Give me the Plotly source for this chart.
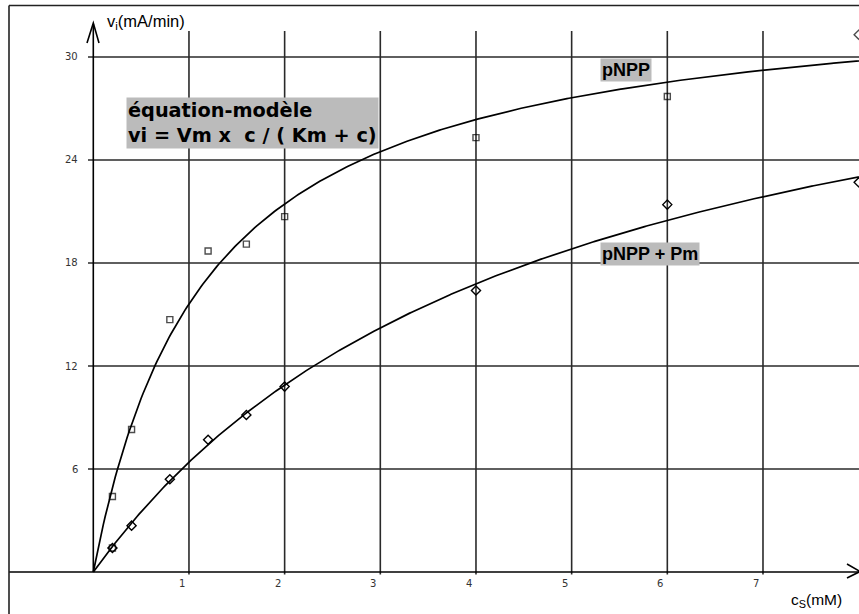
import numpy as np
import plotly.graph_objects as go

# ---------------- data ----------------
pnpp_c = [0.2, 0.2, 0.4, 0.8, 1.2, 1.6, 2, 4, 6, 8]
pnpp_v = [1.4, 4.4, 8.3, 14.7, 18.7, 19.1, 20.7, 25.3, 27.7, 31.3]
pnpp_symbols = ["square-open"] * 9 + ["diamond-open"]

pm_c = [0.2, 0.4, 0.8, 1.2, 1.6, 2, 4, 6, 8]
pm_v = [1.4, 2.7, 5.4, 7.7, 9.15, 10.8, 16.4, 21.4, 22.7]

# fitted model parameters vi = Vm * c / (Km + c)
pnpp_Vm, pnpp_Km = 34.2, 1.19
pm_Vm, pm_Km = 36.6, 4.72

x_ticks = [1, 2, 3, 4, 5, 6, 7]
x_grid = [1, 2, 3, 4, 5, 6, 7]
y_ticks = [6, 12, 18, 24, 30]
y_tick_labels = ["6", "12", "18", "24", "30"]

# ---------------- layout geometry ----------------
W, H = 859, 614
OX, OY = 93.3, 572.0          # pixel of origin
SX, SY = 95.67, 17.167        # pixels per unit


def X(px):
    return (px - OX) / SX


def Y(py):
    return (OY - py) / SY


c_fit = np.linspace(0, 8.3, 400)

fig = go.Figure()

fig.add_trace(go.Scatter(x=c_fit, y=pnpp_Vm * c_fit / (pnpp_Km + c_fit), mode="lines",
                         line=dict(color="black", width=1.7), hoverinfo="skip"))
fig.add_trace(go.Scatter(x=c_fit, y=pm_Vm * c_fit / (pm_Km + c_fit), mode="lines",
                         line=dict(color="black", width=1.7), hoverinfo="skip"))
fig.add_trace(go.Scatter(x=pm_c, y=pm_v, mode="markers",
                         marker=dict(symbol="diamond-open", size=7, color="black",
                                     line=dict(color="black", width=1.4)),
                         cliponaxis=False))
fig.add_trace(go.Scatter(x=pnpp_c, y=pnpp_v, mode="markers",
                         marker=dict(symbol=pnpp_symbols, size=[6] * 9 + [7], color="black",
                                     line=dict(color="black", width=1.4)),
                         cliponaxis=False))

shapes = []
grid_col = "#2a2a2a"
# vertical grid lines
for gx in x_grid:
    shapes.append(dict(type="line", xref="x", yref="y", x0=gx, x1=gx, y0=Y(574.5), y1=Y(31),
                       line=dict(color=grid_col, width=1.6), layer="below"))
# horizontal grid lines
for gy in y_ticks:
    shapes.append(dict(type="line", xref="x", yref="y", x0=X(88), x1=X(870), y0=gy, y1=gy,
                       line=dict(color=grid_col, width=1.6), layer="below"))
# axes
shapes.append(dict(type="line", xref="x", yref="y", x0=X(9), x1=X(870), y0=0, y1=0,
                   line=dict(color="black", width=1.6), layer="below"))
shapes.append(dict(type="line", xref="x", yref="y", x0=0, x1=0, y0=0, y1=Y(24),
                   line=dict(color="black", width=1.6), layer="below"))
# arrow heads
shapes.append(dict(type="path", xref="x", yref="y",
                   path=f"M {X(87)},{Y(43)} L {X(93.3)},{Y(23)} L {X(99)},{Y(43)}",
                   line=dict(color="black", width=1.6)))
shapes.append(dict(type="path", xref="x", yref="y",
                   path=f"M {X(847)},{Y(564)} L {X(860)},{Y(571.5)} L {X(847)},{Y(578)}",
                   line=dict(color="black", width=1.6)))
# frame (top and left)
shapes.append(dict(type="line", xref="x", yref="y", x0=X(9), x1=X(870), y0=Y(5.5), y1=Y(5.5),
                   line=dict(color="#222", width=1.6)))
shapes.append(dict(type="line", xref="x", yref="y", x0=X(9), x1=X(9), y0=Y(5.5), y1=Y(620),
                   line=dict(color="#222", width=1.6)))

annotations = []
tick_font = dict(family="DejaVu Sans", size=10, color="#333")
for t in x_ticks:
    annotations.append(dict(x=t, y=0, xref="x", yref="y", text=str(t), showarrow=False,
                            xanchor="center", yanchor="middle", xshift=-7, yshift=-11,
                            font=tick_font))
for t, lab in zip(y_ticks, y_tick_labels):
    annotations.append(dict(x=0, y=t, xref="x", yref="y", text=lab, showarrow=False,
                            xanchor="right", yanchor="middle", xshift=-13,
                            font=tick_font))

annotations.append(dict(x=X(105), y=Y(22), xref="x", yref="y", text="v<sub>i</sub>(mA/min)",
                        showarrow=False, xanchor="left", yanchor="middle",
                        font=dict(family="Liberation Sans", size=16.5, color="black")))
annotations.append(dict(x=X(789), y=Y(600), xref="x", yref="y", text="c<sub>S</sub>(mM)",
                        showarrow=False, xanchor="left", yanchor="middle",
                        font=dict(family="Liberation Sans", size=15.5, color="black")))

annotations.append(dict(x=X(126), y=Y(97), xref="x", yref="y",
                        text="équation-modèle<br>vi = Vm x \u00a0c / ( Km + c)",
                        showarrow=False, xanchor="left", yanchor="top", align="left",
                        bgcolor="#bbbbbb", borderpad=1,
                        font=dict(family="DejaVu Sans", size=19.3, color="black", weight="bold")))
label_font = dict(family="Liberation Sans", size=18, color="black", weight="bold")
annotations.append(dict(x=X(600), y=Y(70), xref="x", yref="y", text="pNPP",
                        showarrow=False, xanchor="left", yanchor="middle",
                        bgcolor="#bbbbbb", borderpad=1, font=label_font))
annotations.append(dict(x=X(600), y=Y(254), xref="x", yref="y", text="pNPP + Pm",
                        showarrow=False, xanchor="left", yanchor="middle",
                        bgcolor="#bbbbbb", borderpad=1, font=label_font))

fig.update_layout(
    width=W, height=H,
    margin=dict(l=0, r=0, t=0, b=0),
    paper_bgcolor="white", plot_bgcolor="white",
    showlegend=False,
    xaxis=dict(range=[X(0), X(W)], showgrid=False, zeroline=False, showticklabels=False,
               ticks="", showline=False, fixedrange=True),
    yaxis=dict(range=[Y(H), Y(0)], showgrid=False, zeroline=False, showticklabels=False,
               ticks="", showline=False, fixedrange=True),
    shapes=shapes,
    annotations=annotations,
)

fig.write_html("out.html")
